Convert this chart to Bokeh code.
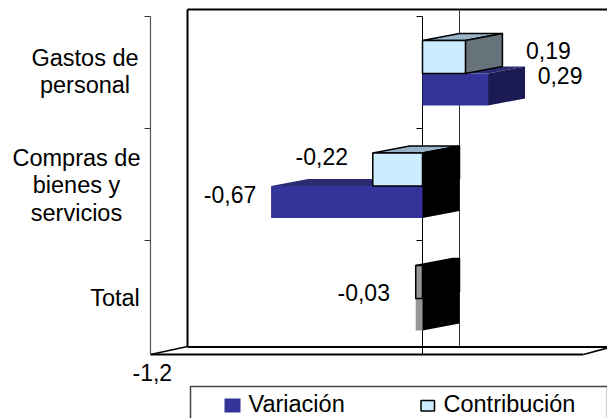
from bokeh.plotting import figure
from bokeh.embed import file_html
from bokeh.resources import INLINE
from bokeh.core.properties import value
from bokeh.models import Range1d

categories = ["Gastos de\npersonal", "Compras de\nbienes y\nservicios", "Total"]
variacion = [0.29, -0.67, -0.03]
contribucion = [0.19, -0.22, -0.03]
labels_var = ["0,29", "-0,67", None]
labels_con = ["0,19", "-0,22", "-0,03"]
axis_tick_label = "-1,2"
axis_min = -1.2
legend_names = ["Variación", "Contribución"]

S = 226.0      # px per unit
def X(px): return (px - 422) / S

W, H = 607, 418
p = figure(width=W, height=H, output_backend="svg", toolbar_location=None,
           x_range=Range1d(X(0), X(607)), y_range=Range1d(418, 0),
           min_border=0, min_border_left=0, min_border_right=0, min_border_top=0, min_border_bottom=0,
           outline_line_color=None, background_fill_color="white", border_fill_color="white")
p.axis.visible = False
p.grid.visible = False

FONT = value("Liberation Sans")
INK = "#000000"

# walls and floor
p.line([X(187), X(187)], [9, 346], line_color=INK, line_width=2)
p.line([X(187), X(615)], [9, 9], line_color=INK, line_width=2)
p.line([X(187), X(615)], [346.5, 346.5], line_color=INK, line_width=2)
p.line([X(150), X(583)], [354, 354], line_color=INK, line_width=2)
p.line([X(150), X(187)], [354, 346], line_color=INK, line_width=1.5)
p.line([X(583), X(607)], [354, 347.5], line_color=INK, line_width=1.5)
# back gridline and zero line
p.line([X(459), X(459)], [9, 346], line_color="#333333", line_width=1)
p.line([0, 0], [16, 354], line_color=INK, line_width=1)
# left axis
p.line([X(150), X(150)], [16, 354], line_color="#555555", line_width=1.2)
for ty in [16, 128, 240]:
    p.line([X(144), X(150)], [ty, ty], line_color="#333333", line_width=1)
    p.line([X(416), 0], [ty, ty], line_color=INK, line_width=1)

DX, DY = 37 / S, -7
SLOT = 112.5
def draw(vals, y0, height, front, top, side, outline, neg_side="#000000"):
    for i, v in enumerate(vals):
        t = y0 + SLOT * i
        b = t + height
        lw = 1.5 if outline else 0
        lc = outline if outline else None
        p.patch([v, 0, DX, v + DX], [t, t, t + DY, t + DY], fill_color=top[i], line_color=lc, line_width=lw)
        sx = max(v, 0)
        p.patch([sx, sx + DX, sx + DX, sx], [t, t + DY, b + DY, b],
                fill_color=side if v > 0 else neg_side, line_color=lc, line_width=lw)
        p.patch([v, 0, 0, v], [t, t, b, b], fill_color=front[i], line_color=lc, line_width=lw)

draw(variacion, 73, 32, ["#333399", "#333399", "#969696"], ["#2a2a70", "#2a2a70", "#777777"], "#1c1a52", None)
draw(contribucion, 40, 33, ["#ccecff", "#ccecff", "#969696"], ["#99b4c8", "#99b4c8", "#777777"], "#66737b", "#000000")

def txt(x, y, t, align="center", fs="23.5px"):
    p.text([x], [y], text=[t], text_font=FONT, text_font_size=fs, text_color=INK,
           text_align=align, text_baseline="middle", text_line_height=1.07)

# category labels
for cx, cy, c in zip([84.5, 76, 114.5], [71, 185, 297], categories):
    txt(X(cx), cy, c)
# data labels
for v, off, y, t in zip(variacion, [72, -41, 0], [75, 194, 0], labels_var):
    if t:
        txt(v + off / S, y, t, fs="23px")
for v, off, y, t in zip(contribucion, [83, -51, -52], [50, 156, 292], labels_con):
    txt(v + off / S, y, t, fs="23px")
txt(axis_min + X(422) + 1 / S, 372, axis_tick_label, fs="23px")

# legend
p.line([X(190), X(190), X(607), X(607)], [418, 386, 386, 418], line_color="#444444", line_width=1.5)
p.quad(left=[X(224)], right=[X(240)], top=[398], bottom=[412], fill_color="#333399", line_color=None)
p.quad(left=[X(420.5)], right=[X(434)], top=[400], bottom=[410.5], fill_color="#ccecff", line_color="#000000", line_width=1.5)
txt(X(248), 403, legend_names[0], "left")
txt(X(443), 403, legend_names[1], "left")

open("out.html", "w").write(file_html(p, INLINE))
